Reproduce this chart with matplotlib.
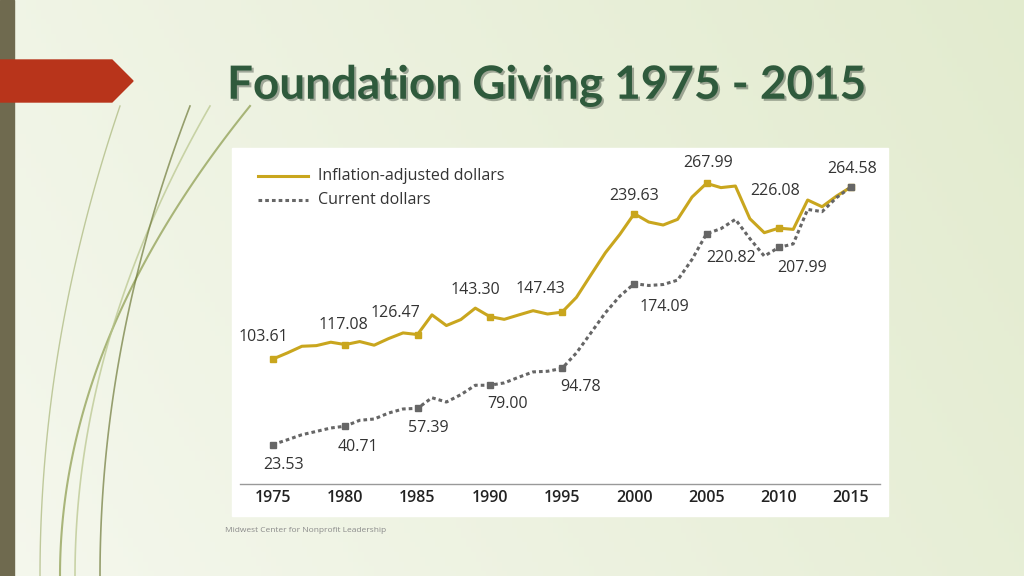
import matplotlib
matplotlib.use("Agg")
import matplotlib.pyplot as plt
import numpy as np
from matplotlib.patches import Polygon, Rectangle
import matplotlib.patheffects as pe

years = list(range(1975, 2016))
inflation_adjusted = [103.61,109.3,115.5,116.1,119.3,117.08,119.9,116.5,122.7,128.0,
                      126.47,144.9,134.9,140.5,151.2,143.30,140.7,144.8,148.8,145.7,
                      147.43,161.3,182.3,203.0,220.2,239.63,231.8,229.0,234.3,255.2,
                      267.99,264.0,265.5,234.9,221.8,226.08,224.9,252.4,246.1,256.1,264.58]
current = [23.53,28.0,32.7,35.8,39.0,40.71,46.2,47.4,53.0,56.8,
           57.39,67.3,63.3,70.2,79.0,79.00,81.2,86.5,91.5,92.1,
           94.78,109.3,128.0,146.8,162.4,174.09,172.4,173.3,177.4,196.8,
           220.82,225.6,234.3,216.3,199.9,207.99,211.3,243.6,241.5,254.6,264.58]
tick_years = [1975,1980,1985,1990,1995,2000,2005,2010,2015]
series_names = ["Inflation-adjusted dollars", "Current dollars"]
title = "Foundation Giving 1975 - 2015"
footer = "Midwest Center for Nonprofit Leadership"

W, H = 1024, 576
fig = plt.figure(figsize=(W/100, H/100), dpi=100)
bg = fig.add_axes([0, 0, 1, 1])
bg.set_xlim(0, W); bg.set_ylim(H, 0); bg.axis("off")
gx, gy = np.meshgrid(np.linspace(0, 1, 200), np.linspace(0, 1, 120))
t = np.clip((gx*0.6 + (1-gy)*0.2), 0, 1)
c1 = np.array([0.96, 0.97, 0.93]); c2 = np.array([0.87, 0.91, 0.78])
img = c1[None, None, :]*(1-t[..., None]) + c2[None, None, :]*t[..., None]
bg.imshow(img, extent=[0, W, H, 0], aspect="auto", zorder=0)
bg.add_patch(Rectangle((0, 0), 14, H, color="#6f6a4f", zorder=1))
bg.add_patch(Polygon([[0, 60], [112, 60], [133, 81], [112, 102], [0, 102]], color="#b8341b", zorder=2))
for (x0, x1, y0, col, lw) in [(60, 250, 576, "#8a9a4a", 1.5), (75, 210, 576, "#b7c48a", 1.2),
                               (100, 190, 576, "#6f7a3a", 1.2), (40, 120, 576, "#a9b67a", 1.0)]:
    s = np.linspace(0, 1, 100)
    xs = x0 + (x1 - x0) * s**2
    ys = y0 - 470 * s
    bg.plot(xs, ys, color=col, lw=lw, alpha=0.7, zorder=1)
bg.text(227, 86, title, fontsize=33, fontweight="bold", color="#2f5a3c", va="center", ha="left",
        family="Lato", path_effects=[pe.withSimplePatchShadow(offset=(1.5, -1.5), alpha=0.35)])
bg.text(225, 531, footer, fontsize=6, color="#8a8a8a", va="center", family="Open Sans")
bg.add_patch(Rectangle((232, 148), 656, 368, color="white", zorder=3))

L, R, T, B = 232, 888, 148, 516
ax = fig.add_axes([L/W, 1-B/H, (R-L)/W, (B-T)/H])
ax.patch.set_alpha(0)
x_lo = 1975 - (273-L)/14.45; x_hi = 2015 + (R-851)/14.45
ppu = 172/161.0
y_lo = 264.58 - (B-187)/ppu; y_hi = 264.58 + (187-T)/ppu
ax.set_xlim(x_lo, x_hi); ax.set_ylim(y_lo, y_hi); ax.axis("off")
def px(x, y):
    return x_lo + (x-L)/(R-L)*(x_hi-x_lo), y_hi - (y-T)/(B-T)*(y_hi-y_lo)

gold = "#c9a61e"; grey = "#666666"
ax.plot(years, inflation_adjusted, color=gold, lw=2.2, zorder=3)
ax.plot(years, current, color=grey, lw=2.2, ls=(0, (1.2, 1.0)), zorder=3)
idx = [years.index(y) for y in tick_years]
ax.plot(tick_years, [inflation_adjusted[i] for i in idx], "s", color=gold, ms=5, zorder=4)
ax.plot(tick_years, [current[i] for i in idx], "s", color=grey, ms=5, zorder=4)

ay = px(0, 484)[1]
ax.plot([px(240, 0)[0], px(880, 0)[0]], [ay, ay], color="#999999", lw=1)
for yr in tick_years:
    ax.text(yr, px(0, 498)[1], str(yr), ha="center", va="center", fontsize=11.5, fontweight="semibold",
            color="#222222", family="Open Sans")

labels = [(103.61,263,337),(117.08,343,325),(126.47,395,313),(143.30,475,290),(147.43,540,289),
          (239.63,634,196),(267.99,708,163),(226.08,775,191),(264.58,852,169),
          (23.53,284,465),(40.71,358,447),(57.39,428,428),(79.00,508,404),(94.78,581,387),
          (174.09,664,307),(220.82,731,258),(207.99,802,268)]
for v, x, y in labels:
    dx, dy = px(x, y)
    ax.text(dx, dy, f"{v:.2f}", ha="center", va="center", fontsize=11.5, color="#333333", family="Open Sans")

for i, (name, col, ls) in enumerate(zip(series_names, [gold, grey], ["-", (0, (1.2, 1.0))])):
    yy = 176 + 24*i
    a, b = px(258, yy); c, _ = px(308, yy)
    ax.plot([a, c], [b, b], color=col, lw=2.2, ls=ls)
    tx, _ = px(318, yy)
    ax.text(tx, b, name, va="center", ha="left", fontsize=11.5, color="#333333", family="Open Sans")

fig.savefig("out.png", dpi=100)
